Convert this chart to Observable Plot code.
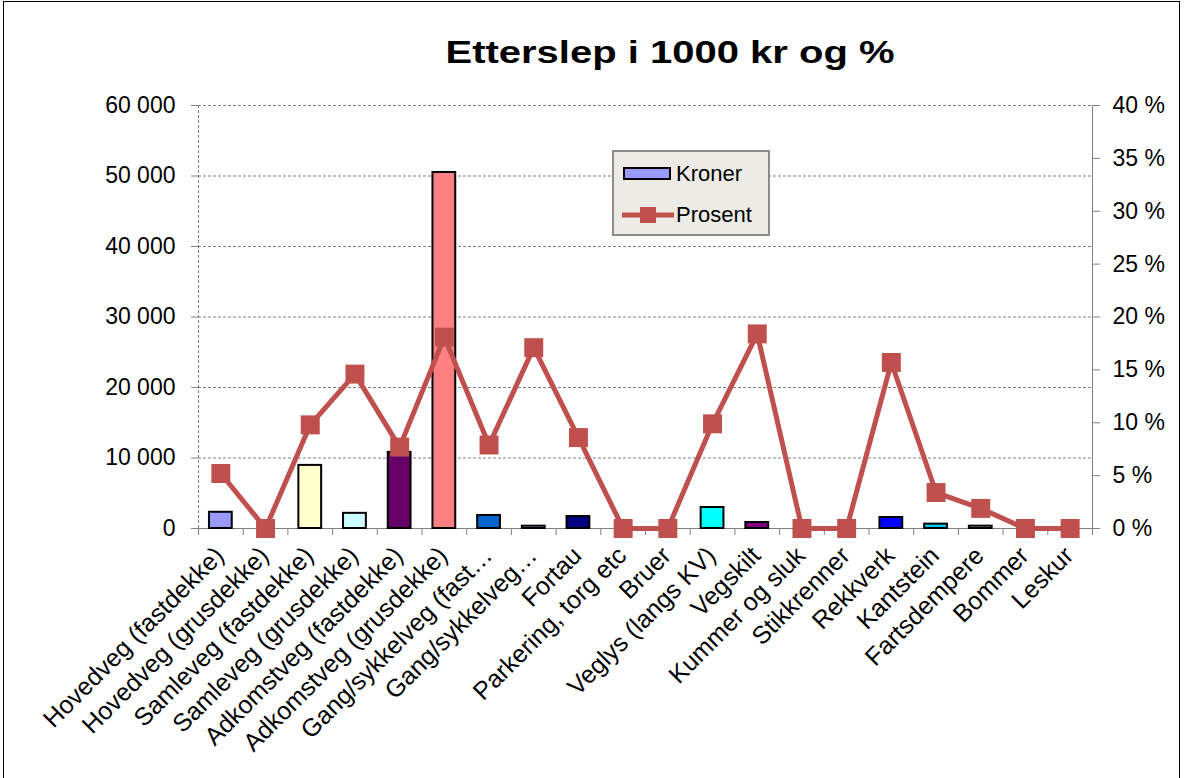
<!DOCTYPE html>
<html>
<head>
<meta charset="utf-8">
<script src="https://cdn.jsdelivr.net/npm/d3@7"></script>
<script src="https://cdn.jsdelivr.net/npm/@observablehq/plot@0.6"></script>
<style>
  html, body { margin: 0; padding: 0; background: #fff; }
  #wrap { position: relative; width: 1186px; height: 778px; overflow: hidden; font-family: "Liberation Sans", Arial, sans-serif; }
  #border { position: absolute; left: 3px; top: 1px; width: 1177px; height: 900px; border: 1.5px solid #000; box-sizing: border-box; pointer-events: none; }
  #title { position: absolute; left: 670px; top: 37px; font-size: 31px; font-weight: bold; line-height: 1; white-space: nowrap; transform: translateX(-50%) scaleX(1.29); transform-origin: center; }
  #legend { position: absolute; left: 612px; top: 150px; width: 158px; height: 86px; background: #ecebe5; border: 2px solid #8c8c8c; box-sizing: border-box; font-size: 22px; }
  .lg-item { position: absolute; left: 8px; height: 24px; display: flex; align-items: center; }
  .lg-label { position: absolute; left: 54px; white-space: nowrap; }
  #chart { position: absolute; left: 0; top: 0; }
</style>
</head>
<body>
<div id="wrap">
  <div id="chart"></div>
  <div id="title"></div>
  <div id="legend"></div>
  <div id="border"></div>
</div>
<script>
// ---- data ----
const categories = [
  "Hovedveg (fastdekke)", "Hovedveg (grusdekke)", "Samleveg (fastdekke)", "Samleveg (grusdekke)",
  "Adkomstveg (fastdekke)", "Adkomstveg (grusdekke)", "Gang/sykkelveg (fast…", "Gang/sykkelveg…",
  "Fortau", "Parkering, torg etc", "Bruer", "Veglys (langs KV)", "Vegskilt", "Kummer og sluk",
  "Stikkrenner", "Rekkverk", "Kantstein", "Fartsdempere", "Bommer", "Leskur"
];
const kroner = [2300, 0, 8950, 2150, 10800, 50500, 1850, 330, 1700, 0, 0, 2980, 850, 0, 0, 1560, 620, 330, 0, 0];
const prosent = [5.2, 0, 9.8, 14.6, 7.7, 18.1, 7.9, 17.1, 8.6, 0, 0, 9.9, 18.4, 0, 0, 15.7, 3.4, 1.9, 0, 0];
const barColors = [
  "#9999ff", "#993366", "#ffffcc", "#ccffff", "#660066", "#ff8080", "#0066cc", "#ccccff",
  "#000080", "#ff00ff", "#ffff00", "#00ffff", "#800080", "#800000", "#008080", "#0000ff",
  "#00ccff", "#ccffff", "#ccffcc", "#ffff99"
];
const kronerTicks = [0, 10000, 20000, 30000, 40000, 50000, 60000];
const prosentTicks = [0, 5, 10, 15, 20, 25, 30, 35, 40];
const titleText = "Etterslep i 1000 kr og %";
const seriesNames = ["Kroner", "Prosent"];
const lineColor = "#c0504d";

// ---- layout ----
const W = 1186, H = 778, mL = 198, mR = 94, mT = 105, mB = 250;
const step = (W - mL - mR) / categories.length;
const pctScale = kronerTicks[kronerTicks.length - 1] / prosentTicks[prosentTicks.length - 1];

const rows = categories.map((c, i) => ({
  c, kr: kroner[i], pct: prosent[i], col: barColors[i], pctY: prosent[i] * pctScale
}));

const loc = d3.formatLocale({decimal: ",", thousands: "\u00a0", grouping: [3], currency: ["", ""]});
const fmtKr = loc.format(",");

const chart = Plot.plot({
  width: W, height: H,
  marginLeft: mL, marginRight: mR, marginTop: mT, marginBottom: mB,
  style: {fontFamily: '"Liberation Sans", Arial, sans-serif', fontSize: "23px", background: "transparent", overflow: "visible", color: "black"},
  x: {domain: categories, paddingInner: 0.49, paddingOuter: 0.245, align: 0.5, round: false, label: null},
  y: {domain: [0, 60000], label: null},
  color: {type: "identity"},
  marks: [
    Plot.gridY(kronerTicks, {stroke: "#808080", strokeOpacity: 1, strokeDasharray: "3,2"}),
    Plot.ruleX([categories[0]], {y1: 0, y2: 60000, dx: -step / 2, stroke: "#808080", strokeDasharray: "3,2"}),
    Plot.ruleX([categories[categories.length - 1]], {y1: 0, y2: 60000, dx: step / 2, stroke: "#808080"}),
    Plot.ruleY([0], {stroke: "#808080"}),
    Plot.ruleX(categories, {y1: 0, y2: 0, dx: step / 2, insetBottom: -7, stroke: "#808080"}),
    Plot.ruleX([categories[0]], {y1: 0, y2: 0, dx: -step / 2, insetBottom: -7, stroke: "#808080"}),
    Plot.barY(rows.filter(d => d.kr > 0), {x: "c", y: "kr", fill: "col", stroke: "#000", strokeWidth: 2}),
    Plot.line(rows, {x: "c", y: "pctY", stroke: lineColor, strokeWidth: 5}),
    Plot.dot(rows, {x: "c", y: "pctY", symbol: "square", r: 10.7, fill: lineColor}),
    Plot.axisY(kronerTicks, {anchor: "left", tickSize: 7, tickPadding: 16, tickFormat: fmtKr, stroke: "#808080", fill: "black"}),
    Plot.axisY(prosentTicks.map(p => p * pctScale), {anchor: "right", tickSize: 7, tickPadding: 13, tickFormat: d => `${Math.round(d / pctScale)} %`, stroke: "#808080", fill: "black"}),
    Plot.axisX({tickRotate: -45, tickSize: 0, tickPadding: 14, dx: -1, dy: 9, fontSize: 25, fill: "black", label: null})
  ]
});
document.getElementById("chart").appendChild(chart);
document.getElementById("title").textContent = titleText;

// legend
const lg = document.getElementById("legend");
lg.innerHTML = `
  <div class="lg-item" style="top:10px;width:150px">
    <svg width="52" height="24"><rect x="2" y="6" width="46" height="11" fill="${barColors[0]}" stroke="#000" stroke-width="2"/></svg>
    <span class="lg-label">${seriesNames[0]}</span>
  </div>
  <div class="lg-item" style="top:51px;width:150px">
    <svg width="52" height="24"><line x1="0" y1="12" x2="52" y2="12" stroke="${lineColor}" stroke-width="5"/><rect x="18" y="4" width="16" height="16" fill="${lineColor}"/></svg>
    <span class="lg-label">${seriesNames[1]}</span>
  </div>`;
</script>
</body>
</html>
